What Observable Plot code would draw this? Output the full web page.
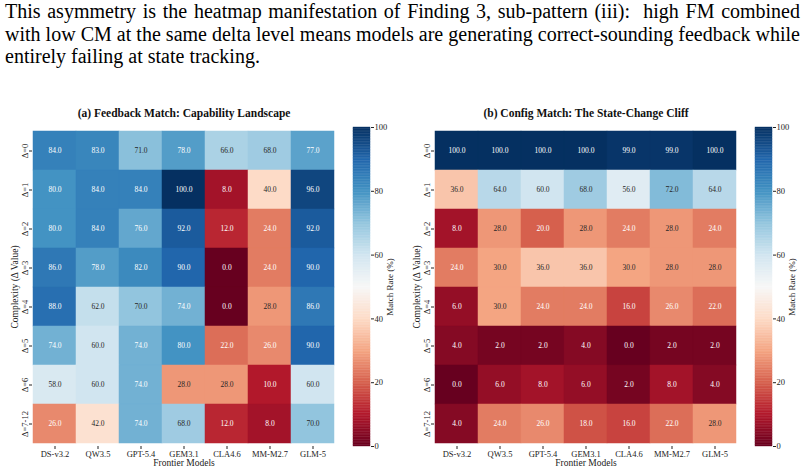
<!DOCTYPE html>
<html><head><meta charset="utf-8">
<script src="https://cdn.jsdelivr.net/npm/d3@7"></script>
<script src="https://cdn.jsdelivr.net/npm/@observablehq/plot@0.6"></script>
<style>
body{margin:0;background:#fff;}
#root{position:relative;width:805px;height:472px;overflow:hidden;font-family:"Liberation Serif","Times New Roman",serif;}
.para{position:absolute;left:5px;top:0px;width:795px;font-size:20px;line-height:22.5px;color:#000;}
.para .j{text-align:justify;text-align-last:justify;}
.panel{position:absolute;}
</style></head><body>
<div id="root">
  <div class="para">
    <div class="j">This asymmetry is the heatmap manifestation of Finding 3, sub-pattern (iii):&nbsp; high FM combined</div>
    <div class="j">with low CM at the same delta level means models are generating correct-sounding feedback while</div>
    <div>entirely failing at state tracking.</div>
  </div>
</div>
<script>
const models = ["DS-v3.2", "QW3.5", "GPT-5.4", "GEM3.1", "CLA4.6", "MM-M2.7", "GLM-5"];
const deltas = ["Δ=0", "Δ=1", "Δ=2", "Δ=3", "Δ=4", "Δ=5", "Δ=6", "Δ=7-12"];

// (a) Feedback Match, rows = deltas, cols = models
const fmValues = [
  [84, 83, 71, 78, 66, 68, 77],
  [80, 84, 84, 100, 8, 40, 96],
  [80, 84, 76, 92, 12, 24, 92],
  [86, 78, 82, 90, 0, 24, 90],
  [88, 62, 70, 74, 0, 28, 86],
  [74, 60, 74, 80, 22, 26, 90],
  [58, 60, 74, 28, 28, 10, 60],
  [26, 42, 74, 68, 12, 8, 70]
];
// (b) Config Match
const cmValues = [
  [100, 100, 100, 100, 99, 99, 100],
  [36, 64, 60, 68, 56, 72, 64],
  [8, 28, 20, 28, 24, 28, 24],
  [24, 30, 36, 36, 30, 28, 28],
  [6, 30, 24, 24, 16, 26, 22],
  [4, 2, 2, 4, 0, 2, 2],
  [0, 6, 8, 6, 2, 8, 4],
  [4, 24, 26, 18, 16, 22, 28]
];
const colorTicks = [0, 20, 40, 60, 80, 100];
const titleA = "(a) Feedback Match: Capability Landscape";
const titleB = "(b) Config Match: The State-Change Cliff";

// matplotlib RdBu colormap stops
const rdbu = ["#67001f","#b2182b","#d6604d","#f4a582","#fddbc7","#f7f7f7","#d1e5f0","#92c5de","#4393c3","#2166ac","#053061"];
const stops = rdbu.map((_, i) => i * 10);
const colorOpts = {type: "linear", domain: stops, range: rdbu, interpolate: "rgb"};
const FONT = '"Liberation Serif","Times New Roman",serif';

const colorFn = d3.scaleLinear().domain(stops).range(rdbu).interpolate(d3.interpolateRgb);
function lum(c) {
  const {r, g, b} = d3.rgb(c);
  const f = v => { v /= 255; return v <= 0.03928 ? v / 12.92 : Math.pow((v + 0.055) / 1.055, 2.4); };
  return 0.2126 * f(r) + 0.7152 * f(g) + 0.0722 * f(b);
}
const isDark = v => lum(colorFn(v)) <= 0.408;

function table(values) {
  return deltas.flatMap((d, i) => models.map((m, j) => ({delta: d, model: m, value: values[i][j]})));
}

function heatmap(values, title) {
  const data = table(values);
  const txt = {x: "model", y: "delta", text: d => d.value.toFixed(1), fontSize: 7.5};
  return Plot.plot({
    width: 345, height: 372,
    marginLeft: 32, marginRight: 10, marginTop: 27, marginBottom: 26,
    x: {type: "band", domain: models, padding: 0, label: null},
    y: {type: "band", domain: deltas, padding: 0, label: null},
    color: colorOpts,
    style: {fontFamily: FONT, fontSize: "8.5px", color: "#222", overflow: "visible", background: "transparent"},
    marks: [
      Plot.cell(data, {x: "model", y: "delta", fill: "value", stroke: "value", strokeWidth: 0.5}),
      Plot.text(data.filter(d => !isDark(d.value)), {...txt, fill: "#262626"}),
      Plot.text(data.filter(d => isDark(d.value)), {...txt, fill: "white"}),
      Plot.axisX({tickSize: 3, tickPadding: 1, label: null}),
      Plot.axisY({tickSize: 3, tickRotate: -90, tickPadding: 2, label: null}),
      Plot.text([title], {frameAnchor: "top", dy: -14, lineAnchor: "middle", fontWeight: "bold", fontSize: 11.5, fill: "#111"}),
      Plot.text(["Frontier Models"], {frameAnchor: "bottom", dy: 16.5, lineAnchor: "middle", fontSize: 9.5, fill: "#222"}),
      Plot.text(["Complexity (Δ Value)"], {frameAnchor: "left", dx: -18, rotate: -90, textAnchor: "middle", fontSize: 9.5, fill: "#222"})
    ]
  });
}

function colorbar() {
  const bar = d3.range(0, 100, 0.5);
  return Plot.plot({
    width: 60, height: 372,
    marginLeft: 13, marginRight: 30, marginTop: 27, marginBottom: 26,
    x: {domain: [0, 1], axis: null},
    y: {domain: [0, 100], label: null},
    color: colorOpts,
    style: {fontFamily: FONT, fontSize: "8.5px", color: "#222", overflow: "visible", background: "transparent"},
    marks: [
      Plot.rect(bar, {x1: 0, x2: 1, y1: d => d, y2: d => d + 0.5, fill: d => d + 0.25, stroke: d => d + 0.25, strokeWidth: 0.4}),
      Plot.axisY(colorTicks, {anchor: "right", tickSize: 3, tickPadding: 1, label: null}),
      Plot.text(["Match Rate (%)"], {frameAnchor: "right", dx: 20, rotate: -90, textAnchor: "middle", fontSize: 9, fill: "#222"})
    ]
  });
}

const root = document.getElementById("root");
function place(node, left, top, w) {
  const div = document.createElement("div");
  div.className = "panel";
  div.style.left = left + "px";
  div.style.top = top + "px";
  div.style.width = w + "px";
  div.appendChild(node);
  root.appendChild(div);
}
place(heatmap(fmValues, titleA), 0, 100, 345);
place(colorbar(), 340, 100, 60);
place(heatmap(cmValues, titleB), 402, 100, 345);
place(colorbar(), 742, 100, 60);
</script>
</body></html>
